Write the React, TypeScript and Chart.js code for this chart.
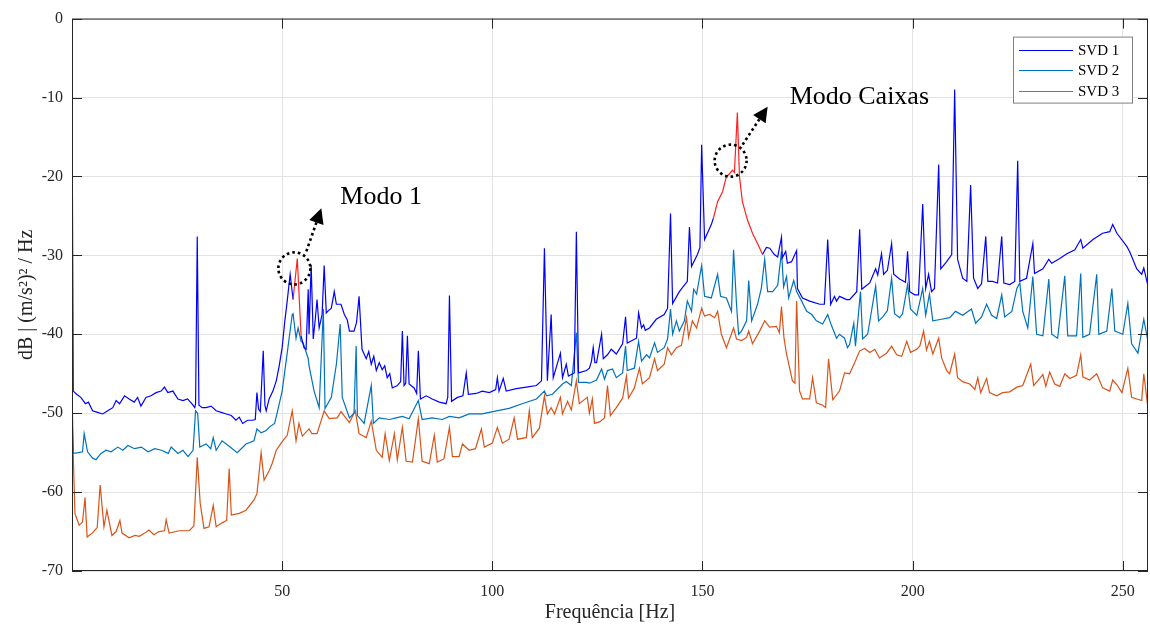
import { useEffect, useRef } from 'react';
import { Chart, registerables } from 'chart.js';

Chart.register(...registerables);

// Singular value spectra: [frequency (Hz), level (dB)]
const svd1: [number, number][] = [
  [0, -9.0], [0.3, -47.2], [1.1, -47.6], [2.1, -48.0], [3.2, -48.8], [3.9, -48.6], [4.9, -49.7], [6.1, -49.9],
  [7.3, -50.1], [8.5, -49.7], [9.7, -49.3], [10.5, -48.4], [11.3, -48.8], [12.5, -47.8], [13.6, -48.2],
  [14.8, -48.6], [15.6, -48.0], [16.4, -49.1], [17.6, -48.0], [18.8, -47.8], [20.0, -47.4], [21.2, -47.2],
  [22.0, -46.7], [22.8, -47.4], [24.0, -47.2], [25.2, -48.2], [26.4, -48.4], [27.5, -48.2], [28.5, -48.8],
  [29.2, -49.3], [29.4, -48.8], [29.8, -27.6], [30.2, -49.0], [31.0, -49.3], [31.9, -49.3], [33.1, -49.1],
  [34.3, -49.7], [35.5, -49.9], [36.7, -50.1], [37.9, -50.3], [39.0, -50.9], [39.8, -50.5], [40.6, -51.3],
  [41.8, -50.9], [43.0, -50.9], [43.6, -50.8], [44.0, -47.4], [44.4, -49.5], [44.8, -49.8],
  [45.5, -42.1], [45.9, -49.0], [46.2, -49.7], [46.9, -48.2], [47.8, -47.2], [48.6, -45.9], [49.3, -44.0],
  [50.0, -41.7], [50.6, -38.5], [51.2, -35.8], [51.9, -32.4], [52.6, -35.6], [53.6, -30.4], [54.5, -40.2],
  [55.2, -41.7], [55.7, -41.9], [56.2, -34.3], [56.4, -40.0], [56.9, -31.2], [57.4, -40.6], [57.9, -38.0],
  [58.3, -35.6], [58.8, -39.2], [59.5, -37.5], [60.0, -31.3], [60.5, -37.3], [61.0, -37.0], [61.7, -36.7],
  [62.4, -34.6], [62.9, -36.2], [64.0, -36.2], [64.8, -37.5], [65.5, -38.2], [66.0, -39.6], [67.1, -39.6],
  [67.7, -38.5], [68.3, -35.2], [69.0, -41.9], [70.0, -43.1], [70.6, -42.2], [71.2, -43.8], [71.8, -42.8],
  [72.4, -44.6], [73.1, -43.6], [73.8, -44.5], [74.4, -44.0], [75.0, -45.5], [75.6, -45.0], [76.2, -46.8],
  [77.4, -46.5], [78.2, -46.0], [78.6, -39.6], [79.0, -46.5], [79.4, -46.2], [79.8, -40.2], [80.2, -46.3],
  [81.4, -46.8], [82.0, -47.5], [82.4, -42.1], [82.9, -48.2], [84.3, -47.8], [85.7, -48.2], [87.4, -48.6],
  [89.0, -48.8], [89.4, -48.0], [89.8, -35.1], [90.3, -48.5], [91.7, -48.0], [93.0, -47.8], [93.8, -44.9],
  [94.3, -47.6], [96.2, -47.5], [97.6, -47.2], [99.3, -47.4], [100.8, -47.0], [101.2, -45.5], [101.6, -47.2],
  [102.6, -45.6], [103.3, -47.2], [105.7, -46.9], [108.1, -46.7], [110.5, -46.5], [111.7, -45.9], [112.4, -29.1],
  [113.1, -45.9], [114.0, -37.5], [114.5, -45.5], [116.2, -42.4], [116.7, -45.5], [117.6, -43.8], [118.1, -45.3],
  [119.5, -44.9], [120.0, -27.0], [120.5, -44.9], [122.4, -44.6], [123.1, -44.3], [123.6, -43.4], [124.0, -41.7],
  [124.4, -43.6], [124.8, -43.6], [126.0, -40.0], [126.4, -43.1], [127.4, -42.6], [128.3, -41.9], [129.5, -42.5],
  [131.0, -41.2], [131.7, -37.8], [132.1, -41.1], [134.3, -40.5], [134.8, -37.3], [135.5, -39.2], [136.0, -38.8],
  [136.4, -39.5], [137.4, -39.2], [139.0, -38.1], [140.9, -37.5], [141.7, -36.7], [142.4, -24.7], [142.9, -36.1],
  [144.5, -34.6], [146.4, -33.3], [146.9, -26.4], [147.4, -31.4], [148.8, -29.9], [149.4, -29.0], [149.8, -16.0],
  [150.5, -28.0], [152.1, -26.1], [152.6, -25.3], [153.6, -23.2], [154.8, -21.9], [155.7, -20.0], [156.4, -19.7],
  [157.1, -19.2], [157.6, -19.5], [158.3, -11.9], [158.8, -20.0], [159.5, -23.2], [160.7, -25.5], [161.9, -27.2],
  [163.1, -28.5], [164.3, -29.9], [165.2, -29.0], [166.0, -29.1], [167.1, -29.9], [167.9, -30.2], [168.8, -27.7],
  [169.0, -30.3], [169.8, -29.5], [170.2, -31.0], [171.2, -30.8], [172.4, -29.4], [172.6, -34.2], [173.8, -35.4],
  [175.5, -35.8], [177.9, -36.2], [179.0, -36.2], [179.8, -28.0], [180.5, -36.2], [181.4, -35.2], [181.9, -35.8],
  [182.6, -35.2], [184.3, -35.6], [185.0, -35.6], [186.7, -34.6], [187.4, -26.7], [187.9, -34.3], [189.8, -33.5],
  [191.2, -31.7], [191.7, -32.5], [192.6, -29.8], [193.1, -32.4], [194.0, -31.9], [195.0, -28.5], [195.5, -32.4],
  [196.9, -33.0], [198.3, -33.4], [198.8, -29.5], [199.3, -34.6], [200.5, -35.0], [201.4, -35.0], [202.4, -23.5],
  [203.1, -34.2], [203.8, -32.4], [204.5, -34.6], [205.2, -34.2], [206.2, -18.5], [206.7, -31.7], [208.1, -30.8],
  [209.3, -29.9], [210.0, -9.0], [210.7, -30.5], [211.9, -32.9], [212.9, -33.3], [213.8, -21.1], [214.5, -32.9],
  [215.5, -34.2], [216.4, -33.6], [217.4, -27.6], [217.9, -33.3], [219.0, -33.3], [220.2, -33.5], [221.2, -27.6],
  [221.7, -33.5], [223.1, -33.7], [224.3, -33.3], [225.0, -18.0], [225.5, -33.3], [227.1, -32.9], [228.6, -28.5],
  [229.0, -32.3], [231.0, -31.7], [232.4, -30.5], [233.1, -31.0], [235.0, -30.4], [236.7, -29.8], [238.6, -29.3],
  [240.0, -28.0], [240.5, -29.1], [242.9, -28.0], [245.2, -27.2], [246.9, -27.0], [247.6, -26.1], [248.6, -27.2],
  [251.0, -28.9], [251.7, -29.6], [253.3, -31.7], [254.5, -32.4], [255.0, -31.6], [256.0, -33.9],
];

const svd2: [number, number][] = [
  [0, -47.2], [0.3, -55.1], [1.5, -55.0], [2.5, -54.9], [2.9, -52.6], [3.7, -54.9], [4.9, -55.7], [5.7, -55.9],
  [6.9, -55.1], [8.1, -54.7], [9.3, -54.9], [10.9, -54.3], [12.1, -54.7], [13.3, -54.1], [14.9, -54.5],
  [16.5, -54.3], [18.1, -54.9], [19.7, -54.5], [21.3, -54.7], [22.9, -55.1], [23.6, -54.3], [25.2, -55.1],
  [26.4, -54.7], [27.6, -55.5], [28.8, -54.7], [29.4, -49.7], [29.9, -50.0],
  [30.4, -54.3], [31.9, -53.9], [33.0, -54.5], [33.6, -53.1], [34.3, -54.7], [35.7, -53.5], [37.4, -54.2],
  [39.3, -55.0], [41.4, -53.9], [43.3, -53.5], [44.0, -52.0], [45.0, -52.5], [46.2, -52.2], [46.9, -51.8],
  [48.2, -51.3], [48.8, -50.0], [50.0, -47.2], [51.2, -42.4], [52.4, -37.5], [52.6, -37.4], [53.3, -40.5],
  [53.8, -39.2], [54.5, -40.9], [55.0, -41.1], [56.2, -43.1], [56.4, -44.0], [57.6, -47.2], [58.8, -49.3],
  [59.8, -36.8], [60.2, -49.4], [61.7, -48.0], [62.9, -43.8], [63.8, -38.7], [64.3, -48.0], [66.0, -50.6],
  [67.1, -50.0], [67.6, -41.5], [67.9, -50.3], [69.5, -51.3], [71.2, -46.5], [71.7, -51.3], [73.1, -50.6],
  [75.5, -50.8], [77.1, -50.6], [78.6, -50.4], [80.2, -50.7], [82.4, -48.4], [83.3, -50.8], [85.7, -50.6],
  [88.1, -50.8], [89.8, -50.4], [92.1, -50.6], [94.5, -50.1], [97.6, -50.1], [101.0, -49.7], [104.0, -49.4],
  [107.1, -48.8], [110.5, -48.2], [112.4, -47.2], [112.9, -47.8], [114.3, -47.6], [116.7, -46.3], [117.6, -46.0],
  [118.8, -46.5], [120.0, -39.8], [120.5, -46.1], [122.4, -46.1], [123.1, -46.2], [124.8, -45.8], [126.0, -44.4],
  [126.7, -45.7], [127.4, -44.6], [128.6, -44.4], [129.5, -45.5], [131.0, -44.9], [131.7, -41.5], [132.1, -44.6],
  [133.8, -44.3], [134.8, -40.9], [135.5, -43.4], [136.7, -42.6], [137.4, -43.0], [138.6, -41.1], [139.3, -42.3],
  [140.9, -41.7], [141.7, -40.6], [142.4, -36.8], [142.9, -40.0], [143.8, -38.3], [144.5, -39.6], [145.7, -38.3],
  [146.4, -35.8], [147.4, -37.1], [147.9, -34.3], [148.6, -34.9], [149.8, -31.3], [150.5, -35.2], [152.1, -35.4],
  [153.6, -32.4], [154.3, -35.2], [155.7, -35.4], [156.9, -37.1], [157.4, -29.3], [158.1, -36.2], [158.6, -40.0],
  [159.3, -39.6], [160.5, -38.3], [161.0, -33.2], [161.7, -38.3], [163.1, -36.2], [164.0, -34.2], [164.8, -30.5],
  [165.5, -34.6], [166.7, -34.6], [167.9, -33.8], [168.8, -29.5], [169.3, -34.0], [170.0, -32.7], [170.5, -35.4],
  [171.7, -33.2], [172.4, -34.6], [173.6, -35.8], [174.8, -37.1], [176.0, -37.5], [177.1, -38.3], [178.6, -38.7],
  [179.8, -37.5], [180.7, -38.9], [181.9, -40.5], [182.6, -40.0], [183.8, -40.5], [184.5, -41.7], [185.0, -41.3],
  [186.0, -38.6], [186.4, -41.5], [187.6, -34.6], [188.1, -40.6], [189.3, -40.0], [191.2, -33.9], [191.9, -38.3],
  [192.9, -37.8], [194.0, -37.0], [195.0, -32.9], [195.7, -37.4], [196.9, -37.9], [197.6, -37.4], [198.8, -33.7],
  [199.5, -36.8], [201.0, -37.6], [202.4, -34.2], [203.1, -37.6], [204.0, -34.9], [204.8, -38.3], [206.9, -38.1],
  [208.8, -37.9], [210.2, -37.1], [211.9, -37.6], [214.0, -36.8], [215.0, -38.6], [216.4, -37.8], [217.6, -36.2],
  [218.8, -37.6], [220.0, -38.0], [221.2, -35.0], [221.9, -37.8], [223.6, -37.1], [224.8, -34.2], [225.5, -33.5],
  [226.2, -37.1], [227.4, -39.2], [228.6, -32.7], [229.5, -40.0], [231.0, -40.2], [232.4, -33.0], [233.1, -40.0],
  [234.5, -40.5], [236.2, -32.6], [236.9, -40.2], [239.0, -40.2], [240.0, -32.3], [240.5, -40.4], [242.1, -40.0],
  [243.8, -32.4], [244.3, -40.0], [246.2, -39.6], [247.4, -34.2], [248.1, -39.6], [250.0, -40.0], [251.2, -36.1],
  [252.1, -41.2], [253.6, -42.4], [255.0, -38.1], [256.0, -40.9],
];

const svd3: [number, number][] = [
  [0, -50.0], [0.7, -62.7], [1.7, -64.2], [2.5, -63.8], [3.1, -60.7], [3.6, -65.7], [4.8, -65.2], [6.0, -64.5],
  [6.7, -59.1], [7.6, -64.4], [8.3, -62.3], [9.5, -65.5], [10.5, -65.0], [11.4, -63.6], [11.9, -65.2],
  [13.6, -65.8], [15.0, -65.5], [16.0, -65.6], [17.3, -65.2], [18.3, -64.8], [19.5, -65.4], [20.7, -65.0],
  [22.0, -64.9], [22.4, -63.5], [23.1, -65.2], [25.5, -64.9], [27.9, -64.9], [29.0, -64.3], [29.8, -55.6],
  [30.5, -61.4], [31.4, -64.6], [32.6, -64.4], [33.6, -61.7], [34.3, -64.4], [35.7, -63.9], [36.8, -63.6],
  [37.4, -57.0], [37.9, -62.9], [39.8, -62.7], [41.4, -62.3], [43.3, -61.0], [44.0, -60.2], [45.0, -55.0],
  [45.7, -58.5], [46.9, -57.3], [47.6, -56.4], [48.6, -54.7], [50.0, -53.6], [51.2, -52.8], [52.4, -49.7],
  [53.3, -53.5], [54.0, -51.3], [54.8, -52.9], [56.4, -52.0], [57.1, -52.6], [58.3, -52.6], [60.0, -49.7],
  [61.2, -50.7], [63.1, -50.6], [64.0, -49.8], [66.0, -51.2], [67.4, -49.7], [68.3, -52.6], [70.0, -53.1],
  [71.2, -51.0], [72.4, -54.7], [73.8, -55.6], [74.5, -52.6], [75.5, -56.0], [76.7, -52.6], [77.4, -55.9],
  [78.6, -51.8], [79.5, -56.1], [81.0, -56.2], [82.4, -50.7], [83.3, -56.1], [85.0, -56.4], [86.2, -52.8],
  [86.9, -56.2], [88.5, -55.8], [89.8, -51.8], [90.5, -55.5], [92.1, -55.5], [92.9, -53.9], [94.5, -54.7],
  [96.0, -54.5], [97.4, -52.0], [98.1, -54.3], [100.0, -53.8], [101.2, -51.8], [102.4, -53.8], [104.0, -53.3],
  [105.2, -50.6], [106.0, -53.3], [108.1, -53.1], [108.8, -49.7], [109.5, -53.1], [111.2, -51.9], [112.4, -47.8],
  [113.1, -50.1], [114.0, -49.3], [114.8, -50.1], [116.2, -48.0], [116.7, -50.1], [117.9, -48.5], [118.8, -49.6],
  [120.0, -45.9], [120.7, -48.8], [122.6, -48.0], [123.1, -50.0], [123.8, -48.2], [124.3, -51.3], [125.5, -51.1],
  [126.7, -50.6], [127.4, -46.5], [128.1, -50.3], [129.5, -49.3], [131.0, -48.1], [131.9, -45.3], [132.4, -48.1],
  [133.8, -46.8], [135.0, -44.3], [135.7, -46.3], [137.4, -45.5], [138.6, -43.1], [139.3, -44.6], [140.9, -43.8],
  [141.7, -41.7], [142.6, -42.6], [143.8, -41.7], [145.0, -41.4], [146.2, -37.9], [146.7, -40.4], [147.6, -38.3],
  [148.6, -39.2], [149.8, -36.7], [150.5, -37.7], [151.7, -37.5], [152.9, -37.9], [153.6, -37.1], [154.5, -40.0],
  [155.7, -41.7], [157.4, -39.2], [158.1, -40.6], [159.3, -40.8], [160.5, -40.4], [161.0, -39.6], [161.9, -41.2],
  [163.6, -39.6], [164.8, -38.3], [166.0, -39.1], [167.6, -39.0], [168.3, -39.8], [168.8, -36.5], [169.4, -40.5],
  [170.0, -42.5], [171.4, -45.9], [172.0, -46.2], [172.4, -35.8], [173.1, -47.2], [173.8, -48.2], [175.5, -48.2],
  [176.2, -45.5], [177.1, -48.7], [178.6, -49.0], [179.3, -49.3], [180.0, -43.1], [181.0, -48.3], [182.6, -47.2],
  [183.8, -44.9], [185.0, -45.0], [186.2, -43.6], [187.4, -42.1], [188.6, -41.8], [189.8, -42.3], [191.0, -41.9],
  [192.1, -43.0], [193.8, -42.4], [195.0, -41.5], [196.2, -42.6], [197.4, -42.8], [198.6, -40.9], [199.5, -42.3],
  [201.0, -41.9], [201.7, -41.5], [202.6, -39.6], [203.3, -42.0], [204.0, -40.9], [204.8, -42.5], [206.2, -40.5],
  [206.9, -43.0], [208.1, -44.6], [208.8, -45.0], [210.0, -42.5], [210.7, -45.5], [211.9, -46.0], [213.6, -46.3],
  [214.8, -47.0], [215.5, -45.5], [216.2, -47.4], [217.6, -45.6], [218.3, -47.4], [220.0, -47.8], [221.4, -47.4],
  [223.1, -47.3], [224.8, -46.7], [226.2, -46.5], [228.1, -43.8], [228.8, -46.5], [231.0, -45.1], [231.7, -46.6],
  [232.6, -44.8], [233.8, -46.3], [235.0, -46.6], [236.2, -45.0], [237.4, -45.6], [239.0, -45.2], [240.0, -42.6],
  [240.5, -45.4], [242.1, -45.8], [243.8, -45.0], [245.2, -46.8], [246.9, -47.2], [247.6, -45.8], [248.6, -46.4],
  [249.8, -47.4], [251.2, -44.3], [252.1, -48.0], [253.3, -48.2], [254.5, -48.4], [255.0, -45.0], [256.0, -49.4],
];

const seriesLabels = ['SVD 1', 'SVD 2', 'SVD 3'];
const xTicks = [50, 100, 150, 200, 250];
const yTicks = [-70, -60, -50, -40, -30, -20, -10, 0];

// Frequency bands of SVD 1 drawn in red (identified modes)
const highlightBands: [number, number][] = [[52.6, 54.5], [152.6, 164.3]];

// Mode callouts: circled point (Hz, dB) and caption
const modeMarks = [
  { text: 'Modo 1', f: 52.9, db: -31.65, arrowFrom: [12, -17], arrowTo: [27, -60], textAt: [46, -64] },
  { text: 'Modo Caixas', f: 156.7, db: -18.0, arrowFrom: [12, -16], arrowTo: [37, -54], textAt: [59, -57] },
];

const FONT = "'Liberation Serif', 'Times New Roman', serif";
const INK = '#262626';
const COLORS = ['#0000ff', '#0072bd', '#d95319'];
const RED = '#ff2020';

function drawArrow(ctx: CanvasRenderingContext2D, x1: number, y1: number, x2: number, y2: number) {
  const ang = Math.atan2(y2 - y1, x2 - x1);
  const headLen = 15;
  const headW = 7.5;
  const bx = x2 - headLen * Math.cos(ang);
  const by = y2 - headLen * Math.sin(ang);
  ctx.save();
  ctx.strokeStyle = '#000';
  ctx.lineWidth = 2.6;
  ctx.setLineDash([2.6, 3]);
  ctx.beginPath();
  ctx.moveTo(x1, y1);
  ctx.lineTo(bx, by);
  ctx.stroke();
  ctx.setLineDash([]);
  ctx.fillStyle = '#000';
  ctx.beginPath();
  ctx.moveTo(x2, y2);
  ctx.lineTo(bx + headW * Math.sin(ang), by - headW * Math.cos(ang));
  ctx.lineTo(bx - headW * Math.sin(ang), by + headW * Math.cos(ang));
  ctx.closePath();
  ctx.fill();
  ctx.restore();
}

const decorPlugin = {
  id: 'decor',
  afterDatasetsDraw(chart: any) {
    const { ctx, chartArea: a, scales } = chart;
    const xs = scales.x;
    const ys = scales.y;
    ctx.save();

    // axes box with inward ticks on all four sides
    ctx.strokeStyle = INK;
    ctx.lineWidth = 1;
    ctx.strokeRect(a.left + 0.5, a.top + 0.5, a.right - a.left - 1, a.bottom - a.top - 1);
    const tl = 10;
    ctx.beginPath();
    xTicks.forEach((v) => {
      const px = Math.round(xs.getPixelForValue(v)) + 0.5;
      ctx.moveTo(px, a.bottom);
      ctx.lineTo(px, a.bottom - tl);
      ctx.moveTo(px, a.top);
      ctx.lineTo(px, a.top + tl);
    });
    yTicks.forEach((v) => {
      const py = Math.round(ys.getPixelForValue(v)) + 0.5;
      ctx.moveTo(a.left, py);
      ctx.lineTo(a.left + tl, py);
      ctx.moveTo(a.right, py);
      ctx.lineTo(a.right - tl, py);
    });
    ctx.stroke();

    // mode callouts
    modeMarks.forEach((m) => {
      const cx = xs.getPixelForValue(m.f);
      const cy = ys.getPixelForValue(m.db);
      ctx.save();
      ctx.strokeStyle = '#000';
      ctx.lineWidth = 2.6;
      ctx.setLineDash([2.6, 3]);
      ctx.beginPath();
      ctx.arc(cx, cy, 16, 0, Math.PI * 2);
      ctx.stroke();
      ctx.restore();
      drawArrow(ctx, cx + m.arrowFrom[0], cy + m.arrowFrom[1], cx + m.arrowTo[0], cy + m.arrowTo[1]);
      ctx.fillStyle = '#000';
      ctx.font = `26px ${FONT}`;
      ctx.textAlign = 'left';
      ctx.textBaseline = 'alphabetic';
      ctx.fillText(m.text, cx + m.textAt[0], cy + m.textAt[1]);
    });

    // legend box
    const bw = 119;
    const bh = 66;
    const bx = a.right - 16 - bw;
    const by = a.top + 18;
    ctx.fillStyle = '#fff';
    ctx.fillRect(bx, by, bw, bh);
    ctx.strokeStyle = '#808080';
    ctx.lineWidth = 1;
    ctx.strokeRect(bx + 0.5, by + 0.5, bw, bh);
    chart.data.datasets.forEach((ds: any, i: number) => {
      const ly = by + 13 + i * 20.5;
      ctx.strokeStyle = ds.borderColor;
      ctx.lineWidth = 1;
      ctx.beginPath();
      ctx.moveTo(bx + 6, Math.round(ly) + 0.5);
      ctx.lineTo(bx + 60, Math.round(ly) + 0.5);
      ctx.stroke();
      ctx.fillStyle = '#000';
      ctx.font = `15px ${FONT}`;
      ctx.textAlign = 'left';
      ctx.textBaseline = 'middle';
      ctx.fillText(ds.label, bx + 65, ly + 1);
    });
    ctx.restore();
  },
};

function inBand(a: number, b: number) {
  return highlightBands.some(([lo, hi]) => a >= lo - 1e-6 && b <= hi + 1e-6);
}

export default function App() {
  const canvasRef = useRef<HTMLCanvasElement | null>(null);

  useEffect(() => {
    const canvas = canvasRef.current;
    if (!canvas) return;
    const series = [svd1, svd2, svd3];
    const chart = new Chart(canvas, {
      type: 'line',
      data: {
        datasets: series.map((s, i) => ({
          label: seriesLabels[i],
          data: s.map(([x, y]) => ({ x, y })),
          borderColor: COLORS[i],
          borderWidth: 1.2,
          pointRadius: 0,
          tension: 0,
          fill: false,
          segment:
            i === 0
              ? { borderColor: (c: any) => (inBand(c.p0.parsed.x, c.p1.parsed.x) ? RED : undefined) }
              : undefined,
        })),
      },
      options: {
        responsive: false,
        animation: false,
        events: [],
        layout: { padding: { top: 16, right: 2, left: 0, bottom: 0 } },
        plugins: { legend: { display: false }, tooltip: { enabled: false } },
        scales: {
          x: {
            type: 'linear',
            min: 0,
            max: 256,
            afterBuildTicks: (s: any) => {
              s.ticks = xTicks.map((v) => ({ value: v }));
            },
            afterFit: (s: any) => {
              s.height = 54;
            },
            grid: { color: '#e3e3e3', lineWidth: 1, drawTicks: false },
            border: { display: false },
            ticks: {
              font: { family: FONT, size: 16 },
              color: INK,
              padding: 11,
              maxRotation: 0,
              autoSkip: false,
              callback: (v: any) => String(v),
            },
            title: {
              display: true,
              text: 'Frequência [Hz]',
              font: { family: FONT, size: 20 },
              color: INK,
              padding: { top: 0, bottom: 0 },
            },
          },
          y: {
            type: 'linear',
            min: -70,
            max: 0,
            afterBuildTicks: (s: any) => {
              s.ticks = yTicks.map((v) => ({ value: v }));
            },
            afterFit: (s: any) => {
              s.width = 72;
            },
            grid: { color: '#e3e3e3', lineWidth: 1, drawTicks: false },
            border: { display: false },
            ticks: {
              font: { family: FONT, size: 16 },
              color: INK,
              padding: 9,
              autoSkip: false,
              callback: (v: any) => String(v),
            },
            title: {
              display: true,
              text: 'dB | (m/s²)² / Hz',
              font: { family: FONT, size: 20 },
              color: INK,
              padding: { top: 15, bottom: 0 },
            },
          },
        },
      },
      plugins: [decorPlugin],
    });
    return () => chart.destroy();
  }, []);

  return (
    <div style={{ position: 'absolute', left: 0, top: 0, width: 1150, height: 625, background: '#fff' }}>
      <canvas ref={canvasRef} width={1150} height={625} style={{ display: 'block' }} />
    </div>
  );
}
